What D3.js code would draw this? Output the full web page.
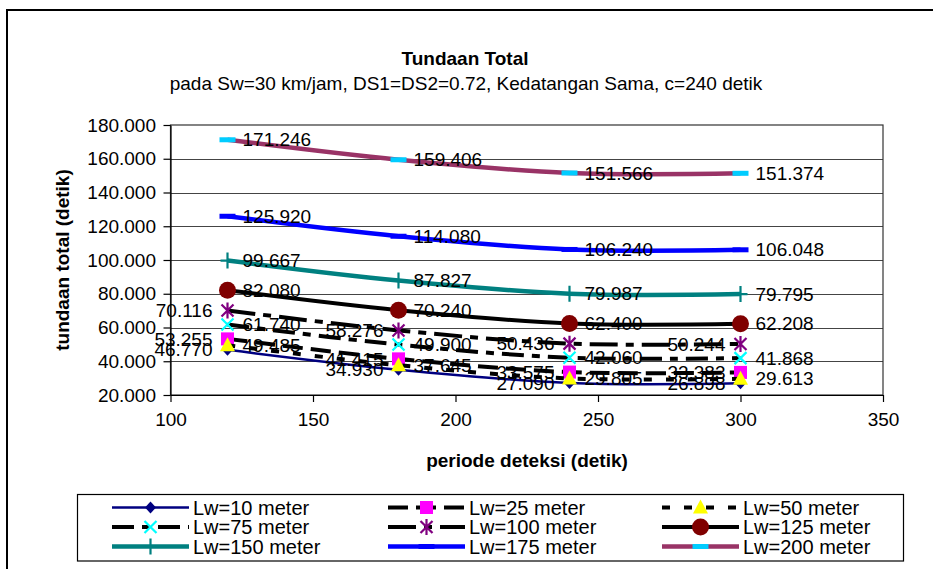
<!DOCTYPE html>
<html lang="id">
<head>
<meta charset="UTF-8">
<title>Tundaan Total</title>
<style>
  *{margin:0;padding:0;}
  body{background:#fff;}
  svg text{font-family:"Liberation Sans", Arial, sans-serif;fill:#000;}
</style>
</head>
<body>
<div id="chart"></div>
<script src="https://cdn.jsdelivr.net/npm/d3@7"></script>
<script>
// data
var periods = [120, 180, 240, 300]
var seriesNames = ["Lw=10 meter", "Lw=25 meter", "Lw=50 meter", "Lw=75 meter", "Lw=100 meter",
                   "Lw=125 meter", "Lw=150 meter", "Lw=175 meter", "Lw=200 meter"]
var lw10  = [46.770, 34.930, 27.090, 26.898]
var lw25  = [53.255, 41.415, 33.575, 33.383]
var lw50  = [49.485, 37.645, 29.805, 29.613]
var lw75  = [61.740, 49.900, 42.060, 41.868]
var lw100 = [70.116, 58.276, 50.436, 50.244]
var lw125 = [82.080, 70.240, 62.400, 62.208]
var lw150 = [99.667, 87.827, 79.987, 79.795]
var lw175 = [125.920, 114.080, 106.240, 106.048]
var lw200 = [171.246, 159.406, 151.566, 151.374]
var xTicks = [100, 150, 200, 250, 300, 350]
var yTicks = [20, 40, 60, 80, 100, 120, 140, 160, 180]

var values = [lw10, lw25, lw50, lw75, lw100, lw125, lw150, lw175, lw200]

// look of each series
var styles = [
  {color: '#000080', width: 2.5, dash: null,         marker: 'diamond',  mcolor: '#000080', side: 'left'},
  {color: '#000000', width: 4,   dash: '20,8',       marker: 'square',   mcolor: '#ff00ff', side: 'left'},
  {color: '#000000', width: 4,   dash: '8,14',       marker: 'triangle', mcolor: '#ffff00', side: 'right'},
  {color: '#000000', width: 4,   dash: '22,8,8,8',   marker: 'x',        mcolor: '#00ffff', side: 'right'},
  {color: '#000000', width: 4,   dash: '28,8,8,8',   marker: 'star',     mcolor: '#800080', side: 'left'},
  {color: '#000000', width: 4,   dash: null,         marker: 'circle',   mcolor: '#800000', side: 'right'},
  {color: '#008080', width: 4.5, dash: null,         marker: 'plus',     mcolor: '#008080', side: 'right'},
  {color: '#0000ff', width: 4.5, dash: null,         marker: 'dash',     mcolor: '#0000ff', side: 'right'},
  {color: '#993366', width: 4.5, dash: null,         marker: 'dash',     mcolor: '#00ccff', side: 'right'}
]

var width = 933, height = 569
var svg = d3.select('#chart').append('svg').attr('width', width).attr('height', height)

// outer chart frame
svg.append('rect').attr('x', 7).attr('y', 10).attr('width', 940).attr('height', 580)
   .attr('fill', '#fff').attr('stroke', '#000').attr('stroke-width', 2)

var x = d3.scaleLinear().domain([100, 350]).range([170.5, 883])
var y = d3.scaleLinear().domain([20, 180]).range([395, 125])

// titles
svg.append('text').attr('x', 465).attr('y', 65).attr('text-anchor', 'middle')
   .style('font-size', '19px').style('font-weight', 'bold').text('Tundaan Total')
svg.append('text').attr('x', 466).attr('y', 90).attr('text-anchor', 'middle')
   .style('font-size', '19px').text('pada Sw=30 km/jam, DS1=DS2=0.72, Kedatangan Sama, c=240 detik')

// grid
svg.append('g').selectAll('line').data(yTicks.slice(1, -1)).enter().append('line')
   .attr('x1', x(100)).attr('x2', x(350))
   .attr('y1', function (d) { return Math.round(y(d)) + 0.5 })
   .attr('y2', function (d) { return Math.round(y(d)) + 0.5 })
   .attr('stroke', '#444').attr('stroke-width', 1)

svg.append('rect').attr('x', x(100)).attr('y', y(180)).attr('width', x(350) - x(100)).attr('height', y(20) - y(180))
   .attr('fill', 'none').attr('stroke', '#333').attr('stroke-width', 1.2)

// axes
svg.append('g').attr('transform', 'translate(' + x(100) + ',0)')
   .call(d3.axisLeft(y).tickValues(yTicks).tickFormat(d3.format('.3f')).tickSizeInner(7).tickSizeOuter(0).tickPadding(7.5))
svg.append('g').attr('transform', 'translate(0,' + y(20) + ')')
   .call(d3.axisBottom(x).tickValues(xTicks).tickFormat(d3.format('d')).tickSizeInner(7).tickSizeOuter(0).tickPadding(11))
svg.selectAll('.tick text').style('font-size', '19px').style('font-family', '"Liberation Sans", Arial, sans-serif')
svg.selectAll('.domain, .tick line').attr('stroke', '#000').attr('stroke-width', 1.2)

svg.append('text').attr('x', 527).attr('y', 467).attr('text-anchor', 'middle')
   .style('font-size', '19px').style('font-weight', 'bold').text('periode deteksi (detik)')
svg.append('text').attr('transform', 'translate(69,260) rotate(-90)').attr('text-anchor', 'middle')
   .style('font-size', '19px').style('font-weight', 'bold').text('tundaan total (detik)')

function drawMarker(g, type, cx, cy, c) {
  var m = g.append('g').attr('transform', 'translate(' + cx + ',' + cy + ')')
  if (type === 'diamond') {
    m.append('path').attr('d', 'M0,-6L5.5,0L0,6L-5.5,0Z').attr('fill', c)
  } else if (type === 'square') {
    m.append('rect').attr('x', -6.5).attr('y', -6.5).attr('width', 13).attr('height', 13).attr('fill', c)
  } else if (type === 'triangle') {
    m.append('path').attr('d', 'M0,-8L7.5,6L-7.5,6Z').attr('fill', c)
  } else if (type === 'x') {
    m.append('path').attr('d', 'M-6,-6L6,6M6,-6L-6,6').attr('stroke', c).attr('stroke-width', 2.2)
  } else if (type === 'star') {
    m.append('path').attr('d', 'M-6,-6L6,6M6,-6L-6,6M0,-8L0,8').attr('stroke', c).attr('stroke-width', 2.2)
  } else if (type === 'circle') {
    m.append('circle').attr('r', 8.5).attr('fill', c)
  } else if (type === 'plus') {
    m.append('path').attr('d', 'M0,-8L0,8M-7,0L7,0').attr('stroke', c).attr('stroke-width', 2.2)
  } else if (type === 'dash') {
    m.append('rect').attr('x', -8).attr('y', -2.5).attr('width', 16).attr('height', 5).attr('fill', c)
  }
}

var line = d3.line()
  .x(function (d, i) { return x(periods[i]) })
  .y(function (d) { return y(d) })
  .curve(d3.curveCatmullRom.alpha(0.5))

var plot = svg.append('g')
values.forEach(function (vals, k) {
  var s = styles[k]
  var g = plot.append('g')
  g.append('path').datum(vals).attr('d', line)
   .attr('fill', 'none').attr('stroke', s.color).attr('stroke-width', s.width)
   .attr('stroke-dasharray', s.dash).attr('stroke-linecap', 'butt')
  vals.forEach(function (v, i) { drawMarker(g, s.marker, x(periods[i]), y(v), s.mcolor) })
})

// data labels on top
var labels = svg.append('g')
values.forEach(function (vals, k) {
  var s = styles[k]
  labels.selectAll(null).data(vals).enter().append('text')
    .attr('x', function (d, i) { return x(periods[i]) + (s.side === 'left' ? -15 : 15) })
    .attr('y', function (d) { return y(d) })
    .attr('dy', '0.35em')
    .attr('text-anchor', s.side === 'left' ? 'end' : 'start')
    .style('font-size', '19px')
    .text(function (d) { return d3.format('.3f')(d) })
})

// legend
var legend = svg.append('g')
legend.append('rect').attr('x', 77.5).attr('y', 494.5).attr('width', 826).attr('height', 66.5)
  .attr('fill', '#fff').attr('stroke', '#000').attr('stroke-width', 1.2)
var colX = [112, 388, 662], rowY = [507.5, 527, 546.5]
seriesNames.forEach(function (name, k) {
  var s = styles[k]
  var lx = colX[k % 3], ly = rowY[Math.floor(k / 3)]
  legend.append('line').attr('x1', lx).attr('x2', lx + 77).attr('y1', ly).attr('y2', ly)
    .attr('stroke', s.color).attr('stroke-width', s.width).attr('stroke-dasharray', s.dash)
  drawMarker(legend, s.marker, lx + 38.5, ly, s.mcolor)
  legend.append('text').attr('x', lx + 81).attr('y', ly).attr('dy', '0.36em')
    .style('font-size', '20px').text(name)
})
</script>
</body>
</html>
